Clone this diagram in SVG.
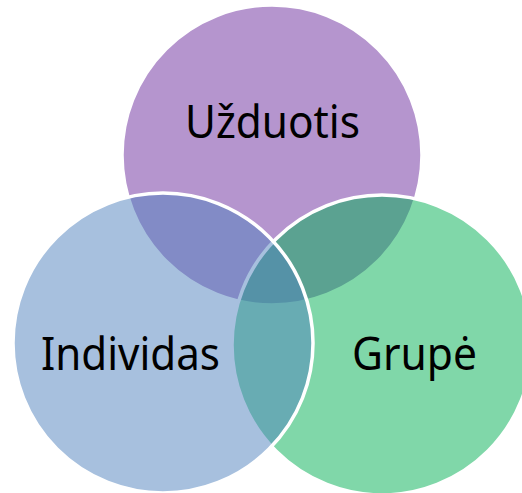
<svg xmlns="http://www.w3.org/2000/svg" width="522" height="493" viewBox="0 0 522 493">
  <style>
    .c { fill-opacity: 0.5; stroke: #FFFFFF; stroke-width: 3.5; }
    .t { font-family: "Noto Sans", "Open Sans", sans-serif; font-size: 45px; fill: #000000; text-anchor: middle; }
  </style>
  <rect width="522" height="493" fill="#FFFFFF"/>
  <g id="node-uzduotis">
    <circle class="c" cx="272" cy="155" r="150" fill="#6B2B9D"/>
  </g>
  <g id="node-grupe">
    <circle class="c" cx="382" cy="345" r="150" fill="#01AF53"/>
  </g>
  <g id="node-individas">
    <circle class="c" cx="163" cy="343" r="150" fill="#4F81BD"/>
  </g>
  <g id="labels">
    <text class="t" x="272.5" y="138" textLength="175" lengthAdjust="spacingAndGlyphs">Užduotis</text>
    <text class="t" x="130.5" y="370" textLength="179" lengthAdjust="spacingAndGlyphs">Individas</text>
    <text class="t" x="414.5" y="370" textLength="125" lengthAdjust="spacingAndGlyphs">Grupė</text>
  </g>
  <g id="connectors"></g>
</svg>
